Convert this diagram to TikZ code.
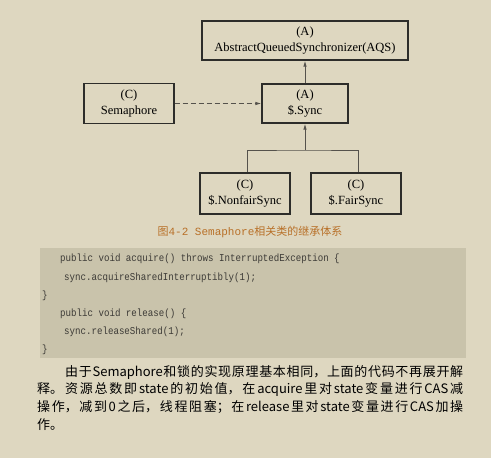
\documentclass[tikz,border=0pt]{standalone}
\usepackage{fontspec}
\setmainfont{Liberation Serif}
\setmonofont{Liberation Mono}
\newfontfamily\cjkfont{Noto Sans CJK SC}
\newfontfamily\codefont[FakeStretch=0.87]{Liberation Mono}
\usetikzlibrary{arrows.meta,positioning,calc}
\usepackage{xcolor}
\definecolor{pagebg}{RGB}{222, 215, 192}
\definecolor{codebg}{RGB}{201, 195, 171}
\definecolor{boxline}{RGB}{45, 45, 42}
\definecolor{linkcol}{RGB}{85, 82, 76}
\definecolor{captioncol}{RGB}{184, 112, 40}
\definecolor{codetext}{RGB}{60, 58, 54}
\XeTeXlinebreaklocale "zh"
\XeTeXlinebreakskip=0pt plus 3pt

\begin{document}
\begin{tikzpicture}[x=1pt, y=-1pt,
    classbox/.style={draw=boxline, line width=1.2pt, fill=pagebg, align=center, inner sep=0pt, font=\fontsize{12.5}{16}\selectfont},
    inherit/.style={-{Latex[length=6pt,width=3.5pt]}, draw=linkcol, line width=0.9pt},
    codeline/.style={anchor=west, inner sep=0pt, text=codetext, font=\fontsize{10.5}{12}\codefont},
    parabox/.style={anchor=north west, inner sep=0pt, text width=426pt, align=justify, font=\fontsize{13}{17.7}\cjkfont}]
        % Page background
        \fill[pagebg] (0, 0) rectangle (491, 458);
        \useasboundingbox (0, 0) rectangle (491, 458);
        % Abstract base class at the top
        \node[classbox, minimum width=206pt, minimum height=39pt] (aqs) at (305, 40.5) {(A)\\AbstractQueuedSynchronizer(AQS)};
        % Semaphore and its inner Sync
        \node[classbox, minimum width=90pt, minimum height=40pt] (sema) at (129, 103.5) {(C)\\Semaphore};
        \node[classbox, minimum width=86pt, minimum height=39pt] (sync) at (305, 103.5) {(A)\\\$.Sync};
        % The two concrete subclasses
        \node[classbox, minimum width=90pt, minimum height=41pt] (nonfair) at (245, 193.5) {(C)\\\$.NonfairSync};
        \node[classbox, minimum width=90pt, minimum height=41pt] (fair) at (356, 193.5) {(C)\\\$.FairSync};
        % Inheritance links
        \draw[inherit] (sync.north) -- (aqs.south);
        \draw[inherit, dash pattern=on 5pt off 3pt] (sema.east) -- (sync.west);
        \coordinate (junc) at (305, 150);
        \draw[draw=linkcol, line width=0.9pt] ($(nonfair.north)+(2,0)$) |- (junc) -| ($(fair.north)+(2,0)$);
        \draw[inherit] (junc) -- (sync.south);
        % Figure caption
        \node[inner sep=0pt, text=captioncol, font=\fontsize{11}{13}\selectfont] (caption) at (250, 232) {{\cjkfont 图}\texttt{4-2 Semaphore}{\cjkfont 相关类的继承体系}};
        % Code listing
        \fill[codebg] (40, 248) rectangle (466, 358);
        \node[codeline] (code1) at (60, 259) {public void acquire() throws InterruptedException \{};
        \node[codeline] (code2) at (64, 277.5) {sync.acquireSharedInterruptibly(1);};
        \node[codeline] (code3) at (42, 296) {\}};
        \node[codeline] (code4) at (60, 314) {public void release() \{};
        \node[codeline] (code5) at (64, 332) {sync.releaseShared(1);};
        \node[codeline] (code6) at (42, 350) {\}};
        % Explanation paragraph
        \node[parabox] (para) at (37, 365) {\hspace*{28pt}由于Semaphore和锁的实现原理基本相同，上面的代码不再展开解\linebreak 释。资源总数即state的初始值，在acquire里对state变量进行CAS减\linebreak 操作，减到0之后，线程阻塞；在release里对state变量进行CAS加操\linebreak 作。};
    \end{tikzpicture}
\end{document}
